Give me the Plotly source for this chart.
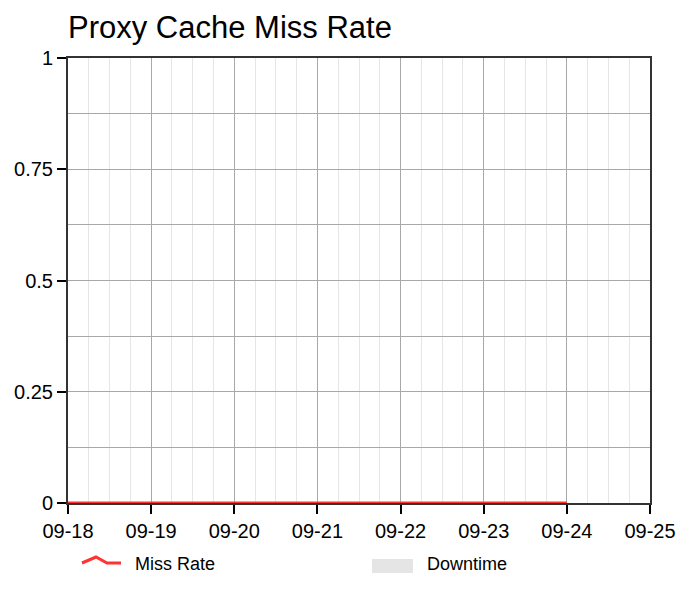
import plotly.graph_objects as go

# ---- data ----
dates = ["2023-09-18", "2023-09-19", "2023-09-20", "2023-09-21",
         "2023-09-22", "2023-09-23", "2023-09-24"]
miss_rate = [0, 0, 0, 0, 0, 0, 0]
x_range = ["2023-09-18", "2023-09-25"]
y_tickvals = [0, 0.25, 0.5, 0.75, 1]
y_ticktext = ["0", "0.25", "0.5", "0.75", "1"]
x_tickvals = ["2023-09-18", "2023-09-19", "2023-09-20", "2023-09-21",
              "2023-09-22", "2023-09-23", "2023-09-24", "2023-09-25"]
x_ticktext = ["09-18", "09-19", "09-20", "09-21", "09-22", "09-23", "09-24", "09-25"]
legend_names = ["Miss Rate", "Downtime"]

OFF = 0
W, H = 680, 590
L, R, T, B = 68, 30, 58, 87
FONT = "Liberation Sans, Arial, sans-serif"
RED = "#ff3333"
AXIS = "#333333"

def px(xp):
    return (xp - OFF - L) / (W - L - R)

def py(yp):
    return (H - B - (yp - OFF)) / (H - T - B)

fig = go.Figure()
fig.add_trace(go.Scatter(x=dates, y=miss_rate, mode="lines",
                         line=dict(color=RED, width=3), name=legend_names[0],
                         showlegend=False, cliponaxis=False))

fig.update_layout(
    width=W, height=H,
    margin=dict(l=L, r=R, t=T, b=B, pad=0, autoexpand=False),
    paper_bgcolor="white", plot_bgcolor="white",
    font=dict(family=FONT, color="#000"),
    showlegend=False,
    title=dict(text="Proxy Cache Miss Rate", x=L / W, xanchor="left",
               y=1 - 27 / H, yanchor="middle",
               font=dict(size=31, family=FONT, color="#000")),
    xaxis=dict(type="date", range=x_range, tickvals=x_tickvals, ticktext=x_ticktext,
               showgrid=True, gridcolor="#a8a8a8", gridwidth=1,
               minor=dict(dtick=6 * 3600 * 1000, showgrid=True, gridcolor="#e6e6e6",
                          gridwidth=1, ticks=""),
               showline=True, linecolor=AXIS, linewidth=2, mirror=True,
               ticks="outside", ticklen=9, tickwidth=2, tickcolor="#000",
               tickfont=dict(size=20, family=FONT, color="#000"),
               zeroline=False, fixedrange=True, automargin=False),
    yaxis=dict(range=[0, 1], tickvals=y_tickvals, ticktext=y_ticktext,
               showgrid=True, gridcolor="#a8a8a8", gridwidth=1,
               minor=dict(dtick=0.125, showgrid=True, gridcolor="#a8a8a8",
                          gridwidth=1, ticks=""),
               showline=True, linecolor=AXIS, linewidth=2, mirror=True,
               ticks="outside", ticklen=9, tickwidth=2, tickcolor="#000",
               tickfont=dict(size=20, family=FONT, color="#000"),
               zeroline=False, fixedrange=True, automargin=False),
)

# ---- manual legend ----
zig = [(82, 563), (96, 557), (107, 563), (121, 563)]
path = "M " + " L ".join(f"{px(a)},{py(b)}" for a, b in zig)
fig.add_shape(type="path", path=path, xref="paper", yref="paper",
              line=dict(color=RED, width=3))
fig.add_shape(type="rect", xref="paper", yref="paper",
              x0=px(372), x1=px(413), y0=py(559), y1=py(573),
              fillcolor="#e5e5e5", line=dict(width=0))
fig.add_annotation(text=legend_names[0], xref="paper", yref="paper",
                   x=px(133), y=py(564), xanchor="left", yanchor="middle",
                   showarrow=False, font=dict(size=18, family=FONT, color="#000"))
fig.add_annotation(text=legend_names[1], xref="paper", yref="paper",
                   x=px(425), y=py(564), xanchor="left", yanchor="middle",
                   showarrow=False, font=dict(size=18, family=FONT, color="#000"))

fig.write_html("out.html", config={"displayModeBar": False},
               post_script="document.body.style.margin='0';document.body.style.overflow='hidden';")
